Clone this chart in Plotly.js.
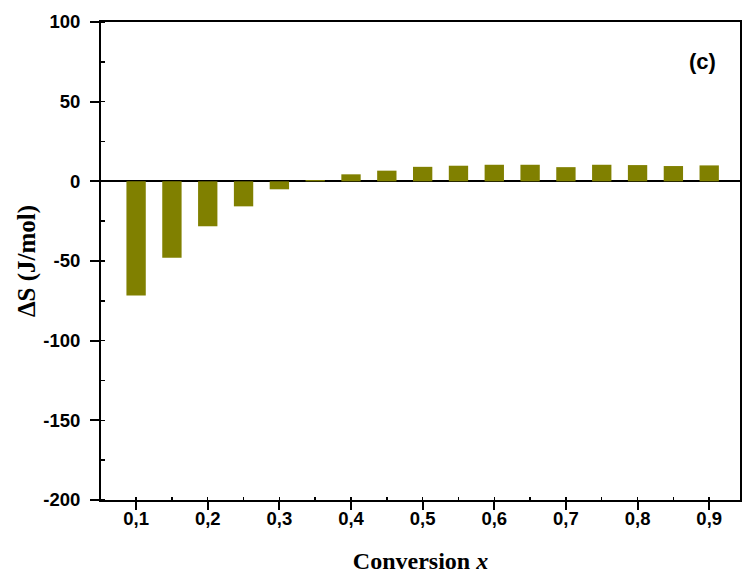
<!DOCTYPE html>
<html>
<head>
<meta charset="utf-8">
<script src="https://cdn.plot.ly/plotly-3.0.1.min.js"></script>
<style>html,body{margin:0;padding:0;background:#fff;}#chart{width:745px;height:575px;}</style>
</head>
<body>
<div id="chart"></div>
<script>
const conversion = [0.1,0.15,0.2,0.25,0.3,0.35,0.4,0.45,0.5,0.55,0.6,0.65,0.7,0.75,0.8,0.85,0.9];
const deltaS = [-71.6,-47.9,-28.2,-15.7,-5.0,0.8,4.4,6.7,9.1,9.8,10.4,10.4,8.9,10.4,10.2,9.6,10.0];
const xTickVals = [0.1,0.2,0.3,0.4,0.5,0.6,0.7,0.8,0.9];
const xTickText = ['0,1','0,2','0,3','0,4','0,5','0,6','0,7','0,8','0,9'];
const yTickVals = [-200,-150,-100,-50,0,50,100];
const yTickText = ['-200','-150','-100','-50','0','50','100'];
const panelLabel = '(c)';

const trace = {
  type: 'bar',
  x: conversion,
  y: deltaS,
  width: 0.027,
  marker: {color: '#808000', line: {width: 0}},
  hoverinfo: 'x+y'
};

const tickFont = {family: 'Liberation Sans, Arial, sans-serif', size: 18.5, color: '#000', weight: 'bold'};

const layout = {
  width: 745, height: 575,
  margin: {l: 101, r: 5, t: 22, b: 75},
  paper_bgcolor: '#fff', plot_bgcolor: '#fff',
  showlegend: false,
  xaxis: {
    range: [0.051, 0.943],
    tickvals: xTickVals, ticktext: xTickText,
    ticks: 'outside', ticklen: 8, tickwidth: 2, tickcolor: '#000',
    minor: {dtick: 0.05, tick0: 0.05, ticks: 'inside', ticklen: 3, tickwidth: 1.5, tickcolor: '#000'},
    showline: true, linecolor: '#000', linewidth: 2, mirror: true,
    showgrid: false, zeroline: false,
    tickfont: tickFont, ticklabelstandoff: -7,
    title: {text: 'Conversion <i>x</i>', font: {family: 'Liberation Serif, Times New Roman, serif', size: 24, color: '#000', weight: 'bold'}, standoff: 24}
  },
  yaxis: {
    range: [-200, 100],
    tickvals: yTickVals, ticktext: yTickText,
    ticks: 'outside', ticklen: 9, tickwidth: 2, tickcolor: '#000',
    minor: {dtick: 25, tick0: 0, ticks: 'inside', ticklen: 4, tickwidth: 1.5, tickcolor: '#000'},
    showline: true, linecolor: '#000', linewidth: 2, mirror: true,
    showgrid: false,
    zeroline: true, zerolinecolor: '#000', zerolinewidth: 2,
    tickfont: tickFont, ticklabelstandoff: 6,
    title: {text: 'ΔS (J/mol)', font: {family: 'Liberation Serif, Times New Roman, serif', size: 25, color: '#000', weight: 'bold'}, standoff: 1}
  },
  annotations: [{
    text: panelLabel, xref: 'x', yref: 'y', x: 0.891, y: 75,
    showarrow: false, xanchor: 'center', yanchor: 'middle',
    font: {family: 'Liberation Sans, Arial, sans-serif', size: 22, color: '#000', weight: 'bold'}
  }]
};

Plotly.newPlot('chart', [trace], layout, {displayModeBar: false, staticPlot: true});
</script>
</body>
</html>
